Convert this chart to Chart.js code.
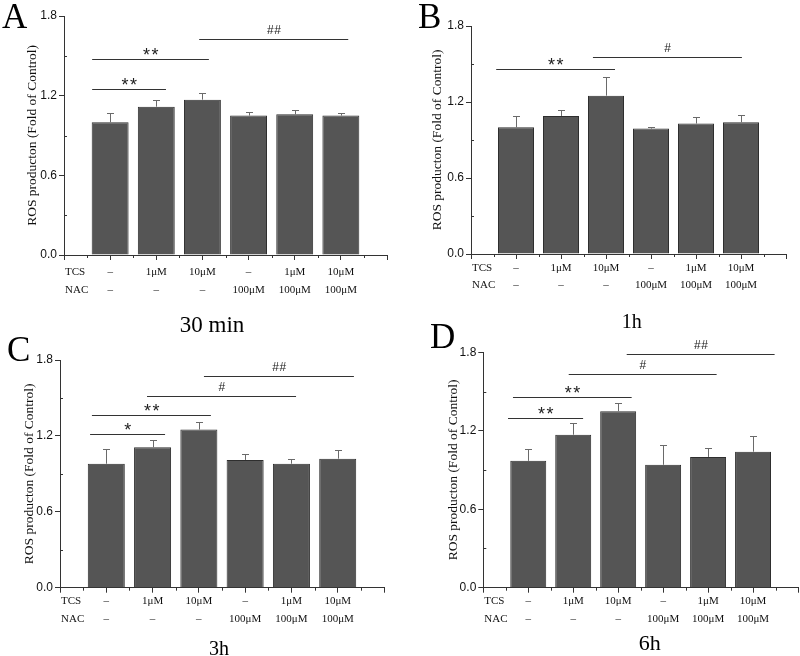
<!DOCTYPE html>
<html>
<head>
<meta charset="utf-8">
<script src="https://cdn.jsdelivr.net/npm/chart.js@4.4.1/dist/chart.umd.min.js"></script>
<style>
html,body{margin:0;padding:0;background:#fff;}
#wrap{position:relative;width:800px;height:656px;overflow:hidden;background:#fff;}
#wrap canvas{position:absolute;}
</style>
</head>
<body>
<div id="wrap">
  <canvas id="cA" width="400" height="336" style="left:0;top:0"></canvas>
  <canvas id="cB" width="400" height="336" style="left:400px;top:0"></canvas>
  <canvas id="cC" width="400" height="336" style="left:0;top:320px"></canvas>
  <canvas id="cD" width="400" height="336" style="left:400px;top:320px"></canvas>
</div>
<script>
// ---------------- data ----------------
const categories = ['Control', 'TCS 1μM', 'TCS 10μM', 'NAC 100μM', 'TCS 1μM + NAC', 'TCS 10μM + NAC'];
const tcsLabels = ['–', '1μM', '10μM', '–', '1μM', '10μM'];
const nacLabels = ['–', '–', '–', '100μM', '100μM', '100μM'];
const yTicks = [0, 0.6, 1.2, 1.8];
const yTitle = 'ROS producton (Fold of Control)';
const panelLetters = ['A', 'B', 'C', 'D'];
const timeLabels = ['30 min', '1h', '3h', '6h'];

const meanA = [1.00, 1.117, 1.17, 1.05, 1.06, 1.05];
const errA  = [0.07, 0.053, 0.05, 0.03, 0.03, 0.02];
const meanB = [1.00, 1.09, 1.25, 0.99, 1.03, 1.04];
const errB  = [0.09, 0.05, 0.15, 0.015, 0.05, 0.06];
const meanC = [0.98, 1.11, 1.25, 1.01, 0.98, 1.02];
const errC  = [0.12, 0.06, 0.06, 0.05, 0.04, 0.07];
const meanD = [0.97, 1.17, 1.35, 0.94, 1.00, 1.04];
const errD  = [0.09, 0.09, 0.06, 0.15, 0.07, 0.12];

// significance brackets: [from category, to category, level, mark]
const sigA = [[-0.39, 1.21, 1.25, '**'], [-0.39, 2.14, 1.475, '**'], [1.93, 5.16, 1.63, '##']];
const sigB = [[-0.44, 2.20, 1.458, '**'], [1.71, 5.02, 1.558, '#']];
const sigC = [[-0.35, 1.27, 1.214, '*'], [-0.31, 2.26, 1.367, '**'], [0.88, 4.10, 1.512, '#'], [2.11, 5.35, 1.67, '##']];
const sigD = [[-0.45, 1.22, 1.30, '**'], [-0.34, 2.30, 1.46, '**'], [0.90, 4.19, 1.635, '#'], [2.19, 5.48, 1.79, '##']];

// ---------------- drawing ----------------
const CW = 400, CH = 336;
const SERIF = '"Liberation Serif", "Times New Roman", serif';
const SANS = '"Liberation Sans", Arial, sans-serif';

const deco = {
  id: 'deco',
  afterDraw(chart, args, o) {
    const {ctx, chartArea: ca, scales: {x, y}} = chart;
    ctx.save();
    ctx.lineWidth = 1;
    ctx.strokeStyle = '#333';
    // minor ticks
    ctx.beginPath();
    for (let i = 0; i < yTicks.length - 1; i++) {
      const v = (yTicks[i] + yTicks[i + 1]) / 2;
      const py = Math.round(y.getPixelForValue(v)) + 0.5;
      ctx.moveTo(ca.left, py); ctx.lineTo(ca.left + 3, py);
    }
    for (let v = -0.5; v < 6; v += 1) {
      const px = Math.round(x.getPixelForValue(v)) + 0.5;
      ctx.moveTo(px, ca.bottom); ctx.lineTo(px, ca.bottom + 3);
    }
    ctx.stroke();
    // error bars (upper)
    const meta = chart.getDatasetMeta(0);
    ctx.strokeStyle = '#6a6a6a';
    meta.data.forEach((bar, i) => {
      const top = Math.round(y.getPixelForValue(o.means[i] + o.errs[i])) + 0.5;
      const px = Math.round(bar.x) + 0.5;
      ctx.beginPath();
      ctx.moveTo(px, bar.y); ctx.lineTo(px, top);
      ctx.moveTo(px - 3.5, top); ctx.lineTo(px + 3.5, top);
      ctx.stroke();
    });
    // significance lines
    ctx.strokeStyle = '#333';
    ctx.fillStyle = '#222';
    ctx.textAlign = 'center';
    ctx.textBaseline = 'alphabetic';
    o.sig.forEach(([a, b, lvl, mark]) => {
      const x1 = x.getPixelForValue(a), x2 = x.getPixelForValue(b);
      const py = Math.round(y.getPixelForValue(lvl)) + 0.5;
      ctx.beginPath(); ctx.moveTo(x1, py); ctx.lineTo(x2, py); ctx.stroke();
      const cx = (x1 + x2) / 2;
      if (mark.indexOf('*') >= 0) {
        ctx.font = '18px ' + SANS;
        ctx.letterSpacing = '1.5px';
        ctx.fillText(mark, cx + 1, py + 1.5);
      } else {
        ctx.font = '12px ' + SANS;
        ctx.letterSpacing = '0.5px';
        ctx.fillText(mark, cx + 0.5, py - 6);
      }
    });
    ctx.letterSpacing = '0px';
    // row headers
    ctx.fillStyle = '#111';
    ctx.textAlign = 'left';
    ctx.textBaseline = 'middle';
    ctx.font = '11px ' + SERIF;
    const r1 = ca.bottom + 5 + o.tickPad + 17.5 / 2;
    ctx.fillText('TCS', ca.left + 1, r1);
    ctx.fillText('NAC', ca.left + 1, r1 + 17.5);
    // panel letter
    ctx.textBaseline = 'alphabetic';
    ctx.font = '35px ' + SERIF;
    ctx.fillStyle = '#000';
    ctx.fillText(o.letter, o.letterPos[0], o.letterPos[1]);
    // caption
    ctx.textAlign = 'center';
    ctx.font = o.caption[2] + 'px ' + SERIF;
    ctx.fillText(o.captionText, o.caption[0], o.caption[1]);
    ctx.restore();
  }
};

function makePanel(id, means, errs, sig, idx, L) {
  return new Chart(document.getElementById(id), {
    type: 'bar',
    data: {
      labels: categories,
      datasets: [{
        data: means.map((v, i) => ({x: i, y: v})),
        backgroundColor: '#555555',
        borderColor: '#2e2e2e',
        borderWidth: 1,
        barPercentage: 0.8,
        categoryPercentage: 1
      }]
    },
    options: {
      responsive: false,
      animation: false,
      devicePixelRatio: 1,
      layout: {padding: {left: 0, top: L.top, right: CW - L.right, bottom: 0}},
      plugins: {
        legend: {display: false},
        tooltip: {enabled: false},
        deco: {
          means, errs, sig, tickPad: L.tickPad,
          letter: panelLetters[idx], letterPos: L.letter,
          captionText: timeLabels[idx], caption: L.caption
        }
      },
      scales: {
        x: {
          type: 'linear', min: -1, max: 6, offset: false,
          afterBuildTicks: s => { s.ticks = []; for (let v = -1; v <= 6; v++) s.ticks.push({value: v}); },
          afterFit: s => { s.height = CH - L.bottom; },
          grid: {display: true, drawOnChartArea: false, drawTicks: true, tickLength: 5, color: '#333', offset: false},
          border: {display: true, color: '#333', width: 1},
          ticks: {
            autoSkip: false, maxRotation: 0, minRotation: 0, padding: L.tickPad, color: '#111',
            font: {family: SERIF, size: 11, lineHeight: 17.5 / 11},
            callback: v => (v >= 0 && v <= 5) ? [tcsLabels[v], nacLabels[v]] : ''
          }
        },
        y: {
          type: 'linear', min: 0, max: 1.8,
          afterBuildTicks: s => { s.ticks = yTicks.map(v => ({value: v})); },
          afterFit: s => { s.width = L.left; },
          grid: {drawOnChartArea: false, drawTicks: true, tickLength: 5, color: '#333'},
          border: {display: true, color: '#333', width: 1},
          ticks: {padding: 2, color: '#111', font: {family: SANS, size: 12}, callback: v => v.toFixed(1)},
          title: {display: true, text: yTitle, color: '#111', font: {family: SERIF, size: 13.5}, padding: {top: L.titlePad, bottom: 0}}
        }
      }
    },
    plugins: [deco]
  });
}

makePanel('cA', meanA, errA, sigA, 0, {left: 64, top: 16, right: 387, bottom: 255, titlePad: 24, tickPad: 3.5, letter: [2, 28], caption: [212, 331.5, 23]});
makePanel('cB', meanB, errB, sigB, 1, {left: 71, top: 26, right: 386, bottom: 254, titlePad: 29.5, tickPad: 0, letter: [18, 28], caption: [231.7, 327.7, 20]});
makePanel('cC', meanC, errC, sigC, 2, {left: 60, top: 40, right: 384, bottom: 267.7, titlePad: 21, tickPad: 0, letter: [7, 41], caption: [219, 335, 20]});
makePanel('cD', meanD, errD, sigD, 3, {left: 83.3, top: 32.3, right: 398, bottom: 267.7, titlePad: 45.5, tickPad: 0, letter: [30, 28], caption: [249.7, 330, 22]});
</script>
</body>
</html>
